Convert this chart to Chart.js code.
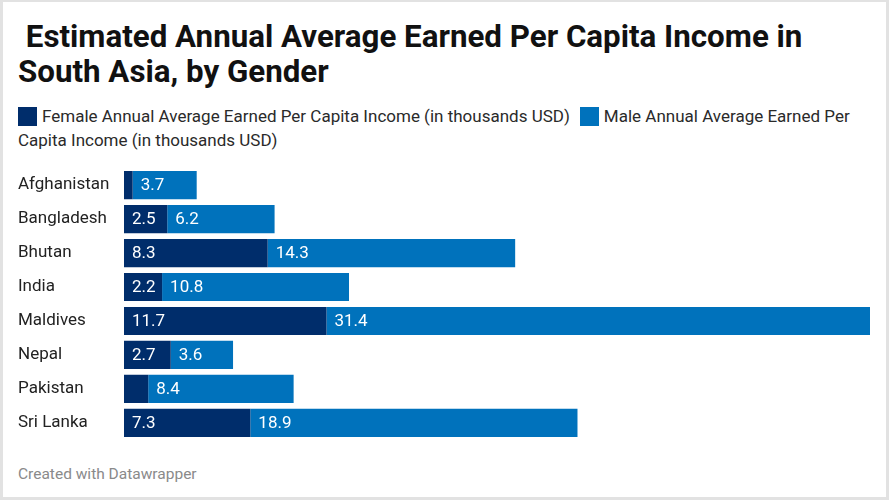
<!DOCTYPE html>
<html>
<head>
<meta charset="utf-8">
<script src="https://cdn.jsdelivr.net/npm/chart.js@4.4.0/dist/chart.umd.min.js"></script>
<style>
  html, body { margin: 0; padding: 0; background: #fff; }
  body { width: 889px; height: 503px; position: relative; overflow: hidden; font-family: Roboto, "Noto Sans", sans-serif; }
  .frame { position: absolute; left: 0; top: 0; width: 889px; height: 500px; box-sizing: border-box;
           border: 3px solid #e2e2e2; border-top-width: 2px; }
  .title { position: absolute; left: 18px; top: 19px; width: 850px; font-size: 31.3px; font-weight: 700;
           line-height: 35px; color: #111; white-space: pre-wrap; }
  .legend { position: absolute; left: 18px; top: 104px; width: 860px; font-size: 17px; line-height: 24px; color: #2a2a2a; }
  .legend .item { margin-right: 10px; }
  .legend .sw { display: inline-block; width: 19px; height: 19px; vertical-align: -4px; margin-right: 5px; }
  .wrap { position: absolute; left: 0; top: 155px; width: 889px; height: 298px; }
  .footer { position: absolute; left: 18px; top: 465px; font-size: 15.5px; color: #8a8a8a; }
</style>
</head>
<body>
<div class="frame"></div>
<div class="title"> Estimated Annual Average Earned Per Capita Income in South Asia, by Gender</div>
<div class="legend" id="legend"></div>
<div class="wrap"><canvas id="Chart"></canvas></div>
<div class="footer">Created with Datawrapper</div>

<script>
// values (thousands USD)
const countries = ['Afghanistan', 'Bangladesh', 'Bhutan', 'India', 'Maldives', 'Nepal', 'Pakistan', 'Sri Lanka'];
const female = [0.5, 2.5, 8.3, 2.2, 11.7, 2.7, 1.4, 7.3];
const male = [3.7, 6.2, 14.3, 10.8, 31.4, 3.6, 8.4, 18.9];
const seriesNames = [
  'Female Annual Average Earned Per Capita Income (in thousands USD)',
  'Male Annual Average Earned Per Capita Income (in thousands USD)'
];
const seriesColors = ['#002d6b', '#0072bc'];

// legend as html so it wraps like the original
document.getElementById('legend').innerHTML = seriesNames.map((n, i) =>
  '<span class="item"><span class="sw" style="background:' + seriesColors[i] + '"></span>' + n + '</span>'
).join('');

// labels inside the bars, left aligned
const barLabels = {
  id: 'barLabels',
  afterDatasetsDraw(chart) {
    const ctx = chart.ctx;
    ctx.save();
    ctx.font = '17px Roboto, "Noto Sans", sans-serif';
    ctx.fillStyle = '#ffffff';
    ctx.textAlign = 'left';
    ctx.textBaseline = 'middle';
    chart.data.datasets.forEach((ds, di) => {
      chart.getDatasetMeta(di).data.forEach((bar, i) => {
        const txt = ds.data[i].toFixed(1);
        const w = bar.x - bar.base;
        if (w < ctx.measureText(txt).width + 14) return;
        ctx.fillText(txt, bar.base + 8, bar.y + 1);
      });
    });
    ctx.restore();
  }
};

const canvas = document.getElementById('Chart');
const ctx = canvas.getContext('2d');

new Chart(ctx, {
  type: 'bar',
  data: {
    labels: countries,
    datasets: [
      { label: seriesNames[0], data: female, backgroundColor: seriesColors[0] },
      { label: seriesNames[1], data: male, backgroundColor: seriesColors[1] }
    ]
  },
  options: {
    indexAxis: 'y',
    responsive: true,
    maintainAspectRatio: false,
    animation: false,
    barPercentage: 0.83,
    categoryPercentage: 1,
    layout: { padding: { left: 18, right: 19, top: 5, bottom: 5 } },
    plugins: { legend: { display: false }, tooltip: { enabled: false } },
    scales: {
      x: { stacked: true, display: false, min: 0, bounds: 'data', grace: 0 },
      y: {
        stacked: true,
        grid: { display: false },
        border: { display: false },
        ticks: {
          crossAlign: 'far',
          color: '#222',
          font: { family: 'Roboto', size: 17 }
        },
        afterFit(scale) { scale.width = 106; }
      }
    }
  },
  plugins: [barLabels]
});
</script>
</body>
</html>
